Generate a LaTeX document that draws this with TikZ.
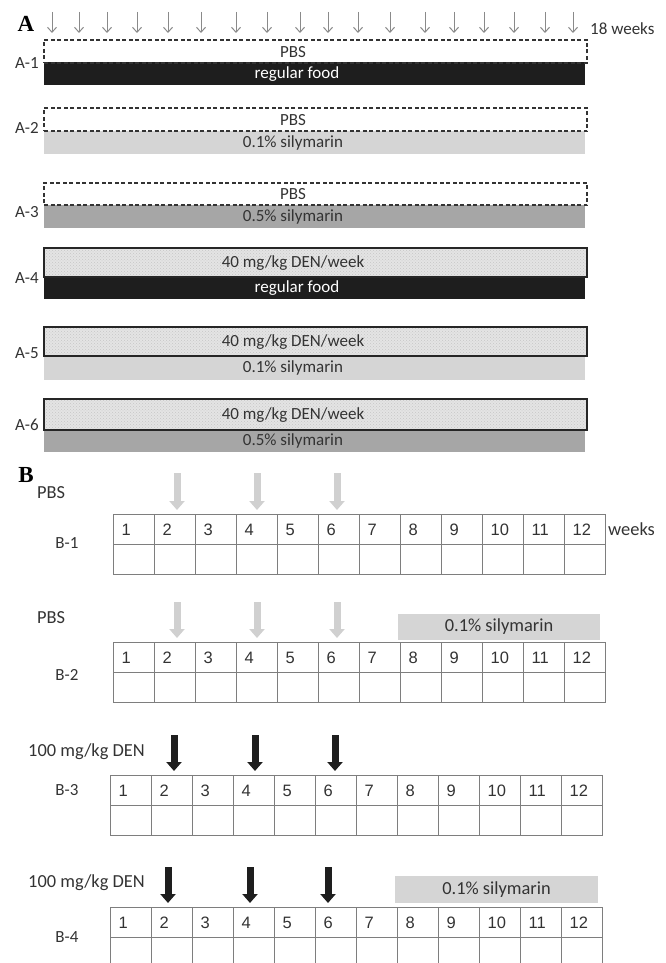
\documentclass[tikz,border=0pt]{standalone}
\usepackage{fontspec}
\setmainfont{Carlito}
\newfontfamily\numfont{Liberation Sans}
\newfontfamily\panelfont{Liberation Serif}
\usepackage{tikz}
\usetikzlibrary{arrows.meta,patterns}
\definecolor{txt}{HTML}{333333}
\definecolor{dashc}{HTML}{333333}
\definecolor{denc}{HTML}{262626}
\definecolor{denfill}{HTML}{E4E4E4}
\definecolor{foodc}{HTML}{1E1E1E}
\definecolor{lowsil}{HTML}{D5D5D5}
\definecolor{highsil}{HTML}{A6A6A6}
\definecolor{tickc}{HTML}{8A8A8A}
\definecolor{pbsc}{HTML}{D0D0D0}
\definecolor{gridc}{HTML}{7E7E7E}

\tikzset{
  lbl/.style={font=\fontsize{17}{20}\selectfont, text=txt, inner sep=0pt},
  blbl/.style={lbl, font=\fontsize{18.4}{21}\selectfont},
  panel/.style={font=\panelfont\bfseries\fontsize{23}{25}\selectfont, inner sep=0pt},
  pbsbox/.style={draw=dashc, dash pattern=on 4pt off 2.5pt, line width=1.5pt, minimum width=543pt, minimum height=23pt, inner sep=0pt},
  denbox/.style={draw=denc, line width=1.8pt, preaction={fill=denfill}, pattern=crosshatch dots, pattern color=gray!45, minimum width=543pt, minimum height=29pt, inner sep=0pt},
  bar/.style={minimum width=541pt, minimum height=23pt, inner sep=0pt},
  tick/.style={draw=tickc, line width=1pt, -{Straight Barb[length=5pt,width=9pt]}},
  dosepbs/.style={draw=pbsc, line width=7pt, shorten >=4pt, -{Triangle[length=9pt,width=15pt]}},
  doseden/.style={draw=foodc, line width=7pt, shorten >=4pt, -{Triangle[length=9pt,width=15pt]}},
  cell/.style={draw=gridc, line width=1.2pt, minimum width=41pt, minimum height=30pt, text width=25pt, inner xsep=8pt, inner ysep=0pt, align=left, font=\numfont\fontsize{16.5}{18}\selectfont, text=txt},
}

\begin{document}
\begin{tikzpicture}[x=1pt, y=-1pt]
\useasboundingbox (0,0) rectangle (665,963);

\node[panel] (A) at (26,24) {A};
\foreach \i/\x in {1/52,2/79,3/107,4/137,5/168,6/201,7/236,8/267,9/300,10/328,11/358,12/390,13/425,14/454,15/484,16/514,17/545,18/573} {
  \coordinate (w\i) at (\x,12);
  \coordinate (wt\i) at (\x,33);
  \draw[tick] (w\i) -- (wt\i);
}
\node[lbl, anchor=west] (wk18) at (590,29) {18 weeks};

\node[bar, fill=foodc] (a1b) at (314.5,74) {};
\node[pbsbox] (a1t) at (315.5,51.5) {};
\node[lbl] (a1tt) at (293,52) {PBS};
\node[lbl, text=white] (a1bt) at (297,74) {regular food};
\node[lbl] (a1) at (27,63) {A-1};

\node[bar, fill=lowsil] (a2b) at (314.5,142.5) {};
\node[pbsbox] (a2t) at (315.5,119.5) {};
\node[lbl] (a2tt) at (293,120) {PBS};
\node[lbl] (a2bt) at (293,143) {0.1\% silymarin};
\node[lbl] (a2) at (27,128) {A-2};

\node[bar, fill=highsil] (a3b) at (314.5,216.5) {};
\node[pbsbox, minimum height=22pt] (a3t) at (315.5,194) {};
\node[lbl] (a3tt) at (293,194) {PBS};
\node[lbl] (a3bt) at (293,217) {0.5\% silymarin};
\node[lbl] (a3) at (27,212) {A-3};

\node[bar, fill=foodc, minimum height=22pt] (a4b) at (314.5,288) {};
\node[denbox] (a4t) at (315.5,262.5) {};
\node[lbl] (a4tt) at (293,263) {40 mg/kg DEN/week};
\node[lbl, text=white] (a4bt) at (297,288) {regular food};
\node[lbl] (a4) at (27,278) {A-4};

\node[bar, fill=lowsil, minimum height=24pt] (a5b) at (314.5,368) {};
\node[denbox] (a5t) at (315.5,341.5) {};
\node[lbl] (a5tt) at (293,342) {40 mg/kg DEN/week};
\node[lbl] (a5bt) at (293,368) {0.1\% silymarin};
\node[lbl] (a5) at (27,353) {A-5};

\node[bar, fill=highsil, minimum height=22pt] (a6b) at (314.5,441) {};
\node[denbox, minimum height=31pt] (a6t) at (315.5,414.5) {};
\node[lbl] (a6tt) at (293,415) {40 mg/kg DEN/week};
\node[lbl] (a6bt) at (293,441) {0.5\% silymarin};
\node[lbl] (a6) at (27,425) {A-6};

\node[panel] (B) at (26,475) {B};
\foreach \t/\l/\tp in {1/113/514, 2/113/642, 3/110/775, 4/110/907} {
  \foreach \c in {1,...,12} {
    \node[cell, anchor=north west] (b\t-\c) at ({\l+41*(\c-1)},\tp) {\c};
    \node[cell, anchor=north west] (e\t-\c) at ({\l+41*(\c-1)},{\tp+30}) {};
  }
}
\node[blbl, anchor=west] (weeks) at (608,529) {weeks};

\node[blbl, anchor=west] (pbs1) at (37,493) {PBS};
\node[lbl] (bl1) at (67,543) {B-1};
\node[blbl, anchor=west] (pbs2) at (37,618) {PBS};
\node[lbl] (bl2) at (67,675) {B-2};
\node[blbl, anchor=west] (den3) at (28,752) {100 mg/kg DEN};
\node[lbl] (bl3) at (67,790) {B-3};
\node[blbl, anchor=west] (den4) at (28,883) {100 mg/kg DEN};
\node[lbl] (bl4) at (67,937) {B-4};

\node[blbl, fill=lowsil, minimum width=202pt, minimum height=26pt] (sil2) at (499,627) {0.1\% silymarin};
\node[blbl, fill=lowsil, minimum width=203pt, minimum height=27pt] (sil4) at (496.5,889.5) {0.1\% silymarin};

\foreach \t/\y in {1/473, 2/602} {
  \foreach \c/\x in {2/177, 4/257, 6/337} {
    \coordinate (d\t-\c) at (\x,\y);
    \draw[dosepbs] (d\t-\c) -- (d\t-\c |- b\t-\c.north);
  }
}
\foreach \c/\x in {2/174, 4/255, 6/335} {
  \coordinate (d3-\c) at (\x,735);
  \draw[doseden] (d3-\c) -- (d3-\c |- b3-\c.north);
}
\foreach \c/\x in {2/168, 4/250, 6/328} {
  \coordinate (d4-\c) at (\x,867);
  \draw[doseden] (d4-\c) -- (d4-\c |- b4-\c.north);
}
\end{tikzpicture}
\end{document}
